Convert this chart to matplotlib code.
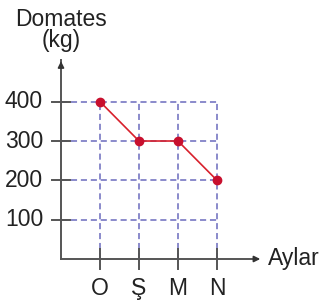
import numpy as np
import matplotlib
matplotlib.use("Agg")
import matplotlib.pyplot as plt

# veriler
aylar = ["O", "Ş", "M", "N"]
domates = [400, 300, 300, 200]
y_ticks = [100, 200, 300, 400]

plt.rcParams['font.family'] = ['Liberation Sans', 'DejaVu Sans']
fs = 16.5

fig = plt.figure(figsize=(3.24, 3.03), dpi=100)
ax = fig.add_axes([0, 0, 1, 1])
# piksel -> veri: x = 61 + 39*i , y = 259 - 0.3933*kg
ax.set_xlim(-61 / 39, (324 - 61) / 39)
ax.set_ylim(-(303 - 259) / 0.3933, 259 / 0.3933)
ax.axis("off")

x = np.arange(1, len(aylar) + 1)
grid_col = "#6b6bbd"
axis_col = "#555555"

# kesikli kılavuz çizgileri
for v in y_ticks:
    ax.plot([0, x[-1]], [v, v], color=grid_col, lw=1.1, dashes=(4, 2.5), zorder=1)
for xi in x:
    ax.plot([xi, xi], [0, max(y_ticks)], color=grid_col, lw=1.1, dashes=(4, 2.5), zorder=1)

# eksenler
ax.plot([0, 0], [0, 505], color=axis_col, lw=1.4, zorder=2)
ax.plot([0, 5.0], [0, 0], color=axis_col, lw=1.4, zorder=2)
ax.annotate("", xy=(0, 510), xytext=(0, 480),
            arrowprops=dict(arrowstyle="-|>", color="#333333", lw=1.2, mutation_scale=9))
ax.annotate("", xy=(5.18, 0), xytext=(4.9, 0),
            arrowprops=dict(arrowstyle="-|>", color="#333333", lw=1.2, mutation_scale=9))

# tikler
for v in y_ticks:
    ax.plot([-0.23, 0.23], [v, v], color=axis_col, lw=1.4, zorder=2)
    ax.text(-0.46, v, str(v), ha="right", va="center", fontsize=fs, color="#222222")
for xi, lab in zip(x, aylar):
    ax.plot([xi, xi], [-25, 25], color=axis_col, lw=1.4, zorder=2)
    ax.text(xi, -75, lab, ha="center", va="center", fontsize=fs, color="#222222")

# veri çizgisi
ax.plot(x, domates, color="#d8202c", lw=1.2, marker="o", ms=6,
        markerfacecolor="#c8102e", markeredgecolor="#c8102e", zorder=3)

ax.text(0, 609, "Domates", ha="center", va="center", fontsize=fs, color="#222222")
ax.text(0, 555, "(kg)", ha="center", va="center", fontsize=fs, color="#222222")
ax.text(5.3, 2, "Aylar", ha="left", va="center", fontsize=fs, color="#222222")

fig.savefig("out.png", dpi=100)
